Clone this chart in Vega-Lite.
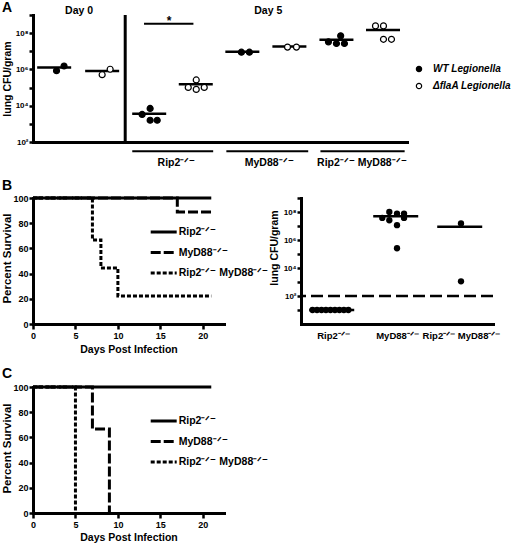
{
  "$schema": "https://vega.github.io/schema/vega-lite/v6.json",
  "padding": {"left": 1, "top": 1, "right": 0, "bottom": 0},
  "background": "white",
  "config": {
    "font": "Liberation Sans",
    "view": {"stroke": null},
    "axis": {
      "domainColor": "black", "domainWidth": 3, "domainCap": "square",
      "tickColor": "black", "tickWidth": 2.5, "tickSize": 4,
      "labelFont": "Liberation Sans", "labelFontWeight": "bold", "labelFontSize": 9, "labelColor": "black",
      "labelPadding": 1, "labelFlush": false, "labelOverlap": false,
      "titleFont": "Liberation Sans", "titleFontWeight": "bold", "titleFontSize": 10.5, "titleColor": "black",
      "grid": false
    },
    "legend": {"labelFont": "Liberation Sans", "labelColor": "black"},
    "title": {"font": "Liberation Sans", "fontSize": 14, "fontWeight": "bold", "anchor": "start", "frame": "group", "dx": -31, "color": "black", "offset": 3}
  },
  "datasets": {
    "aPoints": [
      {"group": "Day 0 WT", "strain": "WT Legionella", "pos": 1.05, "cfu": 851000},
      {"group": "Day 0 WT", "strain": "WT Legionella", "pos": 1.21, "cfu": 1550000},
      {"group": "Day 0 flaA", "strain": "ΔflaA Legionella", "pos": 2.02, "cfu": 513000},
      {"group": "Day 0 flaA", "strain": "ΔflaA Legionella", "pos": 2.19, "cfu": 1020000},
      {"group": "Rip2 WT", "strain": "WT Legionella", "pos": 2.87, "cfu": 3310},
      {"group": "Rip2 WT", "strain": "WT Legionella", "pos": 3.04, "cfu": 7080},
      {"group": "Rip2 WT", "strain": "WT Legionella", "pos": 3.04, "cfu": 1580},
      {"group": "Rip2 WT", "strain": "WT Legionella", "pos": 3.19, "cfu": 1580},
      {"group": "Rip2 flaA", "strain": "ΔflaA Legionella", "pos": 3.85, "cfu": 102000},
      {"group": "Rip2 flaA", "strain": "ΔflaA Legionella", "pos": 4.02, "cfu": 263000},
      {"group": "Rip2 flaA", "strain": "ΔflaA Legionella", "pos": 4.02, "cfu": 79400},
      {"group": "Rip2 flaA", "strain": "ΔflaA Legionella", "pos": 4.19, "cfu": 102000},
      {"group": "MyD88 WT", "strain": "WT Legionella", "pos": 4.98, "cfu": 8900000},
      {"group": "MyD88 WT", "strain": "WT Legionella", "pos": 5.15, "cfu": 8900000},
      {"group": "MyD88 flaA", "strain": "ΔflaA Legionella", "pos": 5.96, "cfu": 17000000},
      {"group": "MyD88 flaA", "strain": "ΔflaA Legionella", "pos": 6.15, "cfu": 17000000},
      {"group": "Rip2 MyD88 WT", "strain": "WT Legionella", "pos": 6.83, "cfu": 33100000},
      {"group": "Rip2 MyD88 WT", "strain": "WT Legionella", "pos": 7.0, "cfu": 26900000},
      {"group": "Rip2 MyD88 WT", "strain": "WT Legionella", "pos": 7.09, "cfu": 70800000},
      {"group": "Rip2 MyD88 WT", "strain": "WT Legionella", "pos": 7.17, "cfu": 26900000},
      {"group": "Rip2 MyD88 flaA", "strain": "ΔflaA Legionella", "pos": 7.83, "cfu": 251000000},
      {"group": "Rip2 MyD88 flaA", "strain": "ΔflaA Legionella", "pos": 8.0, "cfu": 251000000},
      {"group": "Rip2 MyD88 flaA", "strain": "ΔflaA Legionella", "pos": 8.0, "cfu": 45700000},
      {"group": "Rip2 MyD88 flaA", "strain": "ΔflaA Legionella", "pos": 8.17, "cfu": 45700000}
    ],
    "aMedians": [
      {"group": "Day 0 WT", "pos": 1.0, "cfu": 1290000},
      {"group": "Day 0 flaA", "pos": 2.02, "cfu": 813000},
      {"group": "Rip2 WT", "pos": 3.02, "cfu": 3630},
      {"group": "Rip2 flaA", "pos": 4.01, "cfu": 151000},
      {"group": "MyD88 WT", "pos": 5.0, "cfu": 9330000},
      {"group": "MyD88 flaA", "pos": 6.0, "cfu": 18200000},
      {"group": "Rip2 MyD88 WT", "pos": 7.0, "cfu": 42700000},
      {"group": "Rip2 MyD88 flaA", "pos": 7.99, "cfu": 151000000}
    ],
    "aGroups": [
      {"genotype": "Rip2⁻ᐟ⁻", "from": 2.66, "to": 4.38, "mid": 3.6},
      {"genotype": "MyD88⁻ᐟ⁻", "from": 4.66, "to": 6.4, "mid": 5.57},
      {"genotype": "Rip2⁻ᐟ⁻ MyD88⁻ᐟ⁻", "from": 6.66, "to": 8.45, "mid": 7.54}
    ],
    "aDays": [
      {"label": "Day 0", "pos": 1.53},
      {"label": "Day 5", "pos": 5.55}
    ],
    "bPoints": [
      {"genotype": "Rip2⁻ᐟ⁻", "pos": 0.68, "cfu": 10},
      {"genotype": "Rip2⁻ᐟ⁻", "pos": 0.75, "cfu": 10},
      {"genotype": "Rip2⁻ᐟ⁻", "pos": 0.82, "cfu": 10},
      {"genotype": "Rip2⁻ᐟ⁻", "pos": 0.89, "cfu": 10},
      {"genotype": "Rip2⁻ᐟ⁻", "pos": 0.96, "cfu": 10},
      {"genotype": "Rip2⁻ᐟ⁻", "pos": 1.03, "cfu": 10},
      {"genotype": "Rip2⁻ᐟ⁻", "pos": 1.1, "cfu": 10},
      {"genotype": "Rip2⁻ᐟ⁻", "pos": 1.17, "cfu": 10},
      {"genotype": "Rip2⁻ᐟ⁻", "pos": 1.24, "cfu": 10},
      {"genotype": "MyD88⁻ᐟ⁻", "pos": 1.77, "cfu": 38000000},
      {"genotype": "MyD88⁻ᐟ⁻", "pos": 1.88, "cfu": 100000000},
      {"genotype": "MyD88⁻ᐟ⁻", "pos": 1.88, "cfu": 25700000},
      {"genotype": "MyD88⁻ᐟ⁻", "pos": 2.0, "cfu": 77600000},
      {"genotype": "MyD88⁻ᐟ⁻", "pos": 2.0, "cfu": 11500000},
      {"genotype": "MyD88⁻ᐟ⁻", "pos": 2.11, "cfu": 77600000},
      {"genotype": "MyD88⁻ᐟ⁻", "pos": 2.11, "cfu": 38000000},
      {"genotype": "MyD88⁻ᐟ⁻", "pos": 2.0, "cfu": 257000},
      {"genotype": "Rip2⁻ᐟ⁻ MyD88⁻ᐟ⁻", "pos": 3.0, "cfu": 15100000},
      {"genotype": "Rip2⁻ᐟ⁻ MyD88⁻ᐟ⁻", "pos": 3.0, "cfu": 1120}
    ],
    "bMedians": [
      {"genotype": "Rip2⁻ᐟ⁻", "pos": 0.98, "cfu": 10},
      {"genotype": "MyD88⁻ᐟ⁻", "pos": 1.98, "cfu": 50000000},
      {"genotype": "Rip2⁻ᐟ⁻ MyD88⁻ᐟ⁻", "pos": 2.98, "cfu": 8700000}
    ],
    "survB": [
      {"genotype": "Rip2⁻ᐟ⁻", "day": 0, "survival": 100},
      {"genotype": "Rip2⁻ᐟ⁻", "day": 21, "survival": 100},
      {"genotype": "MyD88⁻ᐟ⁻", "day": 0, "survival": 100},
      {"genotype": "MyD88⁻ᐟ⁻", "day": 17, "survival": 88.9},
      {"genotype": "MyD88⁻ᐟ⁻", "day": 21, "survival": 88.9},
      {"genotype": "Rip2⁻ᐟ⁻ MyD88⁻ᐟ⁻", "day": 0, "survival": 100},
      {"genotype": "Rip2⁻ᐟ⁻ MyD88⁻ᐟ⁻", "day": 7, "survival": 66.7},
      {"genotype": "Rip2⁻ᐟ⁻ MyD88⁻ᐟ⁻", "day": 8, "survival": 44.4},
      {"genotype": "Rip2⁻ᐟ⁻ MyD88⁻ᐟ⁻", "day": 10, "survival": 22.2},
      {"genotype": "Rip2⁻ᐟ⁻ MyD88⁻ᐟ⁻", "day": 21, "survival": 22.2}
    ],
    "survC": [
      {"genotype": "Rip2⁻ᐟ⁻", "day": 0, "survival": 100},
      {"genotype": "Rip2⁻ᐟ⁻", "day": 21, "survival": 100},
      {"genotype": "MyD88⁻ᐟ⁻", "day": 0, "survival": 100},
      {"genotype": "MyD88⁻ᐟ⁻", "day": 7, "survival": 66.7},
      {"genotype": "MyD88⁻ᐟ⁻", "day": 9, "survival": 0},
      {"genotype": "Rip2⁻ᐟ⁻ MyD88⁻ᐟ⁻", "day": 0, "survival": 100},
      {"genotype": "Rip2⁻ᐟ⁻ MyD88⁻ᐟ⁻", "day": 5, "survival": 0}
    ]
  },
  "spacing": 12,
  "resolve": {"scale": {"strokeDash": "independent", "fill": "independent"}, "legend": {"strokeDash": "independent", "fill": "independent"}},
  "vconcat": [
    {
      "bounds": "flush",
      "spacing": 56,
      "resolve": {"scale": {"strokeDash": "independent", "fill": "independent"}, "legend": {"strokeDash": "independent", "fill": "independent"}},
      "vconcat": [
        {
          "width": 374,
          "height": 127,
          "title": {"text": "A", "dy": 12},
          "layer": [
            {
              "data": {"name": "aMedians"},
              "mark": {"type": "tick", "orient": "horizontal", "size": 34, "thickness": 2.5, "color": "black", "opacity": 1},
              "encoding": {
                "x": {"field": "pos", "type": "quantitative", "scale": {"domain": [0.55, 8.5], "nice": false, "zero": false},
                      "axis": {"labels": false, "ticks": false, "title": null}},
                "y": {"field": "cfu", "type": "quantitative",
                      "scale": {"type": "log", "domain": [100, 1000000000], "nice": false},
                      "axis": {"values": [100, 1000, 10000, 100000, 1000000, 10000000, 100000000, 1000000000],
                               "labelFontSize": 8,
                               "labelExpr": "datum.value == 100 ? '10²' : datum.value == 10000 ? '10⁴' : datum.value == 1000000 ? '10⁶' : datum.value == 100000000 ? '10⁸' : ''",
                               "title": "lung CFU/gram", "titleX": -26, "titleY": 63.5, "titleAlign": "center", "titleBaseline": "middle", "titleAngle": -90}}
              }
            },
            {
              "data": {"values": [{}]},
              "mark": {"type": "rule", "strokeWidth": 3, "color": "black"},
              "encoding": {
                "x": {"datum": 2.51, "type": "quantitative"},
                "y": {"datum": 100, "type": "quantitative"},
                "y2": {"datum": 1000000000}
              }
            },
            {
              "data": {"values": [{}]},
              "mark": {"type": "rule", "strokeWidth": 2, "color": "black"},
              "encoding": {
                "x": {"datum": 2.91, "type": "quantitative"},
                "x2": {"datum": 3.96},
                "y": {"datum": 330000000, "type": "quantitative"}
              }
            },
            {
              "data": {"values": [{"label": "*"}]},
              "mark": {"type": "text", "fontSize": 12, "fontWeight": "bold", "baseline": "middle", "color": "black", "dy": 3},
              "encoding": {
                "text": {"field": "label"},
                "x": {"datum": 3.44, "type": "quantitative"},
                "y": {"datum": 700000000, "type": "quantitative"}
              }
            },
            {
              "data": {"name": "aDays"},
              "mark": {"type": "text", "fontSize": 10.5, "fontWeight": "bold", "baseline": "middle", "color": "black", "clip": false},
              "encoding": {
                "text": {"field": "label"},
                "x": {"field": "pos", "type": "quantitative"},
                "y": {"datum": 1660000000, "type": "quantitative"}
              }
            },
            {
              "data": {"name": "aGroups"},
              "mark": {"type": "rule", "strokeWidth": 2, "color": "black", "clip": false},
              "encoding": {
                "x": {"field": "from", "type": "quantitative"},
                "x2": {"field": "to"},
                "y": {"datum": 31, "type": "quantitative"}
              }
            },
            {
              "data": {"name": "aGroups"},
              "mark": {"type": "text", "fontSize": 10.5, "fontWeight": "bold", "baseline": "middle", "color": "black", "clip": false},
              "encoding": {
                "text": {"field": "genotype"},
                "x": {"field": "mid", "type": "quantitative"},
                "y": {"datum": 6.6, "type": "quantitative"}
              }
            },
            {
              "data": {"name": "aPoints"},
              "mark": {"type": "point", "shape": "circle", "filled": true, "stroke": "black", "strokeWidth": 1.2, "size": 36, "opacity": 1},
              "encoding": {
                "x": {"field": "pos", "type": "quantitative"},
                "y": {"field": "cfu", "type": "quantitative"},
                "fill": {"field": "strain", "type": "nominal",
                         "scale": {"domain": ["WT Legionella", "ΔflaA Legionella"], "range": ["black", "white"]},
                         "legend": {"orient": "none", "legendX": 381, "legendY": 49, "title": null,
                                    "symbolType": "circle", "symbolSize": 28, "symbolStrokeColor": "black", "symbolStrokeWidth": 1.2,
                                    "labelFontSize": 10, "labelFontWeight": "bold", "labelFontStyle": "italic",
                                    "labelOffset": 9, "rowPadding": 5}}
              }
            }
          ]
        },
        {
          "bounds": "flush",
          "spacing": 77,
          "resolve": {"scale": {"strokeDash": "independent", "fill": "independent"}, "legend": {"strokeDash": "independent", "fill": "independent"}},
          "hconcat": [
            {
              "width": 191,
              "height": 126,
              "title": {"text": "B", "offset": 2, "dy": 3},
              "data": {"name": "survB"},
              "mark": {"type": "line", "interpolate": "step-after", "strokeWidth": 3, "color": "black"},
              "encoding": {
                "x": {"field": "day", "type": "quantitative", "scale": {"domain": [0, 22.5], "nice": false},
                      "axis": {"values": [0, 5, 10, 15, 20], "tickSize": 5, "labelPadding": 2, "title": "Days Post Infection", "titleY": 25, "titleBaseline": "middle"}},
                "y": {"field": "survival", "type": "quantitative", "scale": {"domain": [0, 100], "nice": false},
                      "axis": {"values": [0, 20, 40, 60, 80, 100], "title": "Percent Survival", "titleFontSize": 11.5, "titleX": -25.5, "titleY": 60, "titleAlign": "center", "titleBaseline": "middle", "titleAngle": -90}},
                "strokeDash": {"field": "genotype", "type": "nominal",
                               "scale": {"domain": ["Rip2⁻ᐟ⁻", "MyD88⁻ᐟ⁻", "Rip2⁻ᐟ⁻ MyD88⁻ᐟ⁻"], "range": [[1, 0], [10, 3], [4, 2]]},
                               "legend": {"orient": "none", "legendX": 124.7, "legendY": 28, "title": null,
                                          "symbolType": "M-3,0H3", "symbolSize": 75, "symbolStrokeWidth": 3, "symbolStrokeColor": "black",
                                          "labelFontSize": 10.5, "labelFontWeight": "bold", "labelOffset": 9, "rowPadding": 8.5}}
              }
            },
            {
              "width": 192,
              "height": 126,
              "layer": [
                {
                  "data": {"values": [{}]},
                  "mark": {"type": "rule", "strokeDash": [12, 5], "strokeWidth": 2.5, "color": "black"},
                  "encoding": {"y": {"datum": 100, "type": "quantitative"}}
                },
                {
                  "data": {"name": "bMedians"},
                  "mark": {"type": "tick", "orient": "horizontal", "size": 45, "thickness": 2.5, "color": "black", "opacity": 1},
                  "encoding": {
                    "x": {"field": "pos", "type": "quantitative", "scale": {"domain": [0.5, 3.5], "nice": false, "zero": false},
                          "axis": {"values": [1, 2, 3], "ticks": false, "labelPadding": 6, "labelFontSize": 9.5,
                                   "labelExpr": "datum.value == 1 ? 'Rip2⁻ᐟ⁻' : datum.value == 2 ? 'MyD88⁻ᐟ⁻' : 'Rip2⁻ᐟ⁻ MyD88⁻ᐟ⁻'", "title": null}},
                    "y": {"field": "cfu", "type": "quantitative",
                          "scale": {"type": "log", "domain": [1, 1000000000], "nice": false},
                          "axis": {"values": [10, 100, 1000, 10000, 100000, 1000000, 10000000, 100000000, 1000000000],
                                   "labelFontSize": 8,
                                   "labelExpr": "datum.value == 100 ? '10²' : datum.value == 10000 ? '10⁴' : datum.value == 1000000 ? '10⁶' : datum.value == 100000000 ? '10⁸' : ''",
                                   "title": "lung CFU/gram", "titleX": -27, "titleY": 49.5, "titleAlign": "center", "titleBaseline": "middle", "titleAngle": -90}}
                  }
                },
                {
                  "data": {"name": "bPoints"},
                  "mark": {"type": "point", "shape": "circle", "filled": true, "color": "black", "size": 40, "opacity": 1},
                  "encoding": {
                    "x": {"field": "pos", "type": "quantitative"},
                    "y": {"field": "cfu", "type": "quantitative"}
                  }
                }
              ]
            }
          ]
        }
      ]
    },
    {
      "width": 191,
      "height": 126,
      "title": {"text": "C", "offset": 4, "dy": 4},
      "data": {"name": "survC"},
      "mark": {"type": "line", "interpolate": "step-after", "strokeWidth": 3, "color": "black"},
      "encoding": {
        "x": {"field": "day", "type": "quantitative", "scale": {"domain": [0, 22.5], "nice": false},
              "axis": {"values": [0, 5, 10, 15, 20], "tickSize": 5, "labelPadding": 2, "title": "Days Post Infection", "titleY": 24, "titleBaseline": "middle"}},
        "y": {"field": "survival", "type": "quantitative", "scale": {"domain": [0, 100], "nice": false},
              "axis": {"values": [0, 20, 40, 60, 80, 100], "title": "Percent Survival", "titleFontSize": 11.5, "titleX": -25.5, "titleY": 61, "titleAlign": "center", "titleBaseline": "middle", "titleAngle": -90}},
        "strokeDash": {"field": "genotype", "type": "nominal",
                       "scale": {"domain": ["Rip2⁻ᐟ⁻", "MyD88⁻ᐟ⁻", "Rip2⁻ᐟ⁻ MyD88⁻ᐟ⁻"], "range": [[1, 0], [10, 3], [4, 2]]},
                       "legend": {"orient": "none", "legendX": 124.7, "legendY": 28, "title": null,
                                  "symbolType": "M-3,0H3", "symbolSize": 75, "symbolStrokeWidth": 3, "symbolStrokeColor": "black",
                                  "labelFontSize": 10.5, "labelFontWeight": "bold", "labelOffset": 9, "rowPadding": 8.5}}
      }
    }
  ]
}
